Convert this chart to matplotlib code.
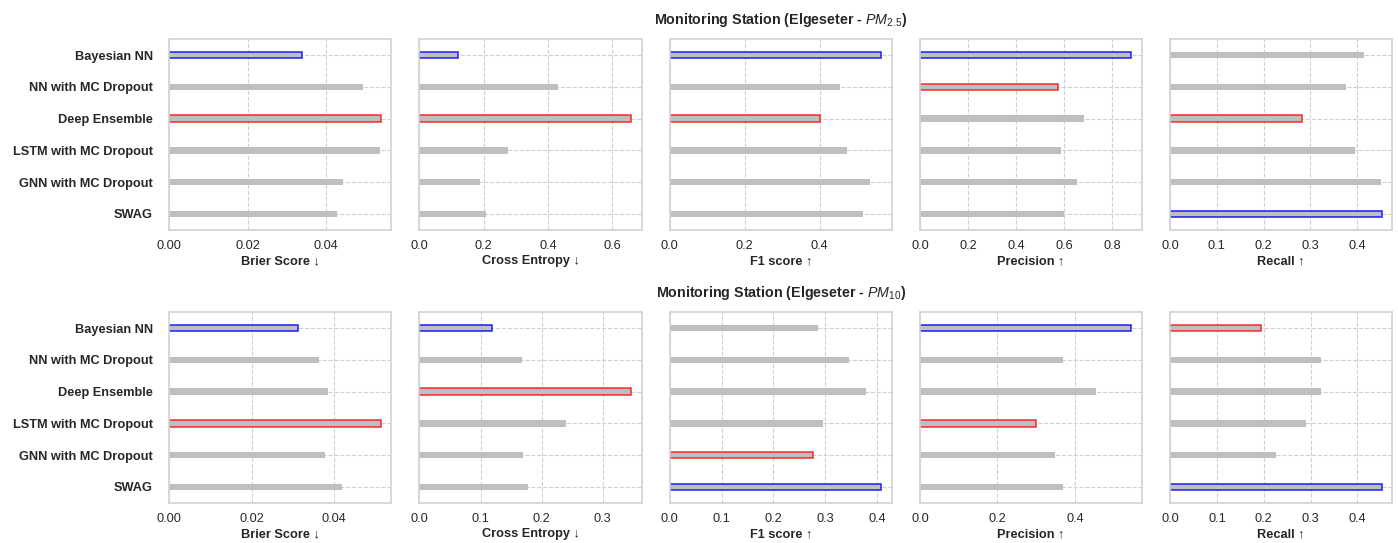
import numpy as np
import matplotlib
matplotlib.use('Agg')
import matplotlib.pyplot as plt
import seaborn as sns

models = ['Bayesian NN', 'NN with MC Dropout', 'Deep Ensemble',
          'LSTM with MC Dropout', 'GNN with MC Dropout', 'SWAG']
metrics = ['Brier Score', 'Cross Entropy', 'F1 score', 'Precision', 'Recall']
lower_is_better = [True, True, False, False, False]

# PM2.5
brier_25 = [0.0339, 0.0494, 0.0540, 0.0537, 0.0443, 0.0428]
ce_25 = [0.121, 0.430, 0.658, 0.275, 0.189, 0.206]
f1_25 = [0.5645, 0.454, 0.400, 0.473, 0.534, 0.516]
precision_25 = [0.880, 0.5725, 0.683, 0.585, 0.652, 0.600]
recall_25 = [0.415, 0.3765, 0.283, 0.396, 0.452, 0.453]

# PM10
brier_10 = [0.0311, 0.0363, 0.0385, 0.0513, 0.0377, 0.0419]
ce_10 = [0.118, 0.168, 0.3465, 0.240, 0.170, 0.178]
f1_10 = [0.286, 0.346, 0.379, 0.296, 0.276, 0.408]
precision_10 = [0.546, 0.370, 0.455, 0.300, 0.349, 0.370]
recall_10 = [0.194, 0.3228, 0.3228, 0.291, 0.227, 0.452]

rows = [
    ('Monitoring Station (Elgeseter - $PM_{2.5}$)',
     [brier_25, ce_25, f1_25, precision_25, recall_25]),
    ('Monitoring Station (Elgeseter - $PM_{10}$)',
     [brier_10, ce_10, f1_10, precision_10, recall_10]),
]

sns.set_style('whitegrid', {'grid.linestyle': '--', 'axes.edgecolor': '#d4d4d4'})
plt.rcParams['font.family'] = ['Liberation Sans', 'DejaVu Sans']
plt.rcParams['font.size'] = 9.2
plt.rcParams['axes.linewidth'] = 1.25
plt.rcParams['mathtext.fontset'] = 'custom'
plt.rcParams['mathtext.rm'] = 'Liberation Sans'
plt.rcParams['mathtext.it'] = 'Liberation Sans:italic'
plt.rcParams['mathtext.bf'] = 'Liberation Sans:bold'

fig, axes = plt.subplots(2, 5, figsize=(13.98, 5.43), dpi=100)
fig.subplots_adjust(left=0.1211, right=0.9959, top=0.9276, bottom=0.0742,
                    wspace=0.126, hspace=0.434)

blue_edge = (0.0, 0.0, 1.0, 0.8)
red_edge = (1.0, 0.0, 0.0, 0.75)

y = np.arange(len(models))
for r, (title, values) in enumerate(rows):
    for c, vals in enumerate(values):
        ax = axes[r, c]
        vals = np.array(vals)
        best = np.argmin(vals) if lower_is_better[c] else np.argmax(vals)
        worst = np.argmax(vals) if lower_is_better[c] else np.argmin(vals)
        edges = ['none'] * len(models)
        edges[best] = blue_edge
        edges[worst] = red_edge
        ax.barh(y, vals, height=0.2, color='#bfbfbf', edgecolor=edges,
                linewidth=1.2, zorder=2)
        ax.set_yticks(y)
        ax.set_ylim(5.5, -0.5)
        ax.set_xlim(0, vals.max() * 1.05)
        arrow = '↓' if lower_is_better[c] else '↑'
        ax.set_xlabel(f'{metrics[c]} {arrow}', fontweight='bold',
                      color='#262626', labelpad=2)
        ax.tick_params(axis='x', length=0, colors='#262626', pad=7.5)
        ax.tick_params(axis='y', length=0, colors='#262626', pad=12)
        if c == 0:
            ax.set_yticklabels(models, fontweight='bold')
        else:
            ax.set_yticklabels([])
        ax.grid(True, color='#d0d0d0', linestyle='--', linewidth=0.8)
        ax.set_axisbelow(True)
    axes[r, 2].set_title(title, fontweight='bold', color='#262626',
                         fontsize=10.3, pad=11)

plt.savefig('out.png', dpi=100)
